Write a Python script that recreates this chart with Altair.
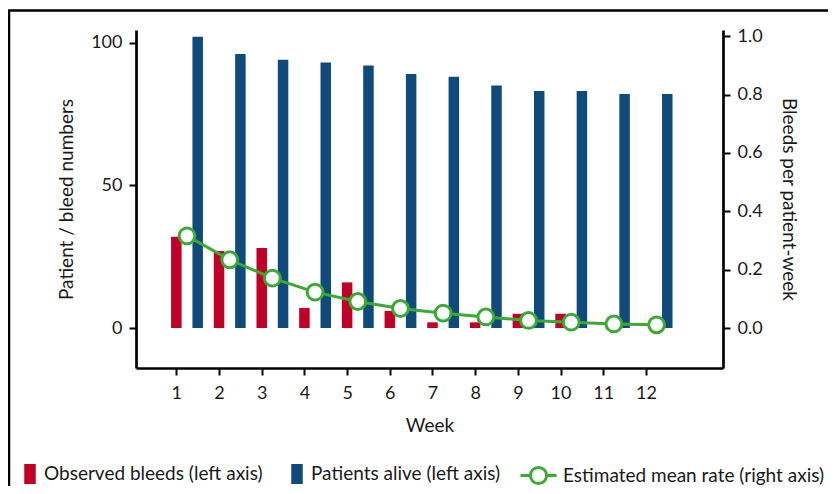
import altair as alt
import pandas as pd

# ---- data ----
weeks = [1, 2, 3, 4, 5, 6, 7, 8, 9, 10, 11, 12]
observed_bleeds = [32, 27, 28, 7, 16, 6, 2, 2, 5, 5, 0, 0]
patients_alive = [102, 96, 94, 93, 92, 89, 88, 85, 83, 83, 82, 82]
mean_rate = [0.316, 0.234, 0.171, 0.123, 0.091, 0.067, 0.051, 0.038, 0.026, 0.020, 0.014, 0.011]

bar_series = ["Observed bleeds (left axis)", "Patients alive (left axis)"]
line_series = "Estimated mean rate (right axis)"
x_ticks = weeks
left_ticks = [0, 50, 100]
right_ticks = [0.0, 0.2, 0.4, 0.6, 0.8, 1.0]

RED = "#C00027"
BLUE = "#0F4A7C"
GREEN = "#3BAA35"
FONT = "Lato"

bar_df = pd.DataFrame(
    {
        "week": weeks * 2,
        "value": observed_bleeds + patients_alive,
        "series": [bar_series[0]] * len(weeks) + [bar_series[1]] * len(weeks),
    }
)
line_df = pd.DataFrame({"week": weeks, "rate": mean_rate, "series": [line_series] * len(weeks)})

x_scale = alt.Scale(domain=[0.055, 13.805], nice=False, zero=False, padding=0)

bars = (
    alt.Chart(bar_df)
    .transform_calculate(pos=f"datum.week + (datum.series == '{bar_series[1]}' ? 0.5 : 0)")
    .mark_bar(size=10.5)
    .encode(
        x=alt.X(
            "pos:Q",
            scale=x_scale,
            axis=alt.Axis(values=x_ticks, format="d", title="Week", labelAngle=0,
                          labelPadding=9, titlePadding=14),
        ),
        y=alt.Y(
            "value:Q",
            scale=alt.Scale(domain=[-14, 104.4], nice=False),
            axis=alt.Axis(values=left_ticks, title="Patient / bleed numbers", orient="left",
                          labelPadding=7, titlePadding=14),
        ),
        y2=alt.datum(0),
        color=alt.Color(
            "series:N",
            scale=alt.Scale(domain=bar_series, range=[RED, BLUE]),
            legend=alt.Legend(
                title=None,
                orient="none",
                direction="horizontal",
                legendX=-116,
                legendY=434,
                symbolType="M-0.575,-1H0.575V1H-0.575Z",
                symbolSize=400,
                symbolStrokeWidth=0,
                labelOffset=4,
                columnPadding=24,
                labelFont=FONT,
                labelFontSize=19,
                labelColor="#1a1a1a",
                labelLimit=400,
            ),
        ),
    )
)

stroke_enc = alt.Stroke(
    "series:N",
    scale=alt.Scale(domain=[line_series], range=[GREEN]),
    legend=alt.Legend(
        title=None,
        orient="none",
        direction="horizontal",
        legendX=383,
        legendY=426,
        symbolType="M-1,0H-0.45M0.45,0H1M0.45,0A0.45,0.45,0,1,1,-0.45,0A0.45,0.45,0,1,1,0.45,0",
        symbolSize=1296,
        symbolStrokeWidth=3,
        symbolFillColor="white",
        symbolStrokeColor=GREEN,
        labelOffset=5,
        labelFont=FONT,
        labelFontSize=19,
        labelColor="#1a1a1a",
        labelLimit=400,
    ),
)

right_y = alt.Y(
    "rate:Q",
    scale=alt.Scale(domain=[-0.137, 1.0216], nice=False),
    axis=alt.Axis(values=right_ticks, format=".1f", title="Bleeds per patient-week",
                  orient="right", labelPadding=7, titlePadding=16, titleAngle=90),
)

line_base = alt.Chart(line_df).transform_calculate(pos="datum.week + 0.25")
line = line_base.mark_line(strokeWidth=3).encode(
    x=alt.X("pos:Q", scale=x_scale), y=right_y, stroke=stroke_enc
)
points = line_base.mark_point(shape="circle", size=250, fill="white", fillOpacity=1,
                              strokeWidth=3, opacity=1).encode(
    x=alt.X("pos:Q", scale=x_scale), y=right_y, stroke=stroke_enc
)

frame = (
    alt.Chart(pd.DataFrame({"f": [0]}))
    .mark_rect(fillOpacity=0, stroke="black", strokeWidth=2.5)
    .encode(x=alt.value(-127), x2=alt.value(2000), y=alt.value(-19.5), y2=alt.value(2000))
)

chart = (
    alt.layer(frame, bars, alt.layer(line, points))
    .resolve_scale(y="independent")
    .properties(
        width=587,
        height=338,
        autosize=alt.AutoSizeParams(type="none"),
        padding={"left": 128, "top": 22, "right": 105, "bottom": 118},
    )
    .configure_view(stroke=None)
    .configure_axis(
        grid=False,
        domainColor="black",
        domainWidth=2.7,
        tickColor="black",
        tickWidth=2,
        tickSize=7,
        labelFont=FONT,
        labelFontSize=18,
        labelColor="#1a1a1a",
        titleFont=FONT,
        titleFontSize=19,
        titleFontWeight="normal",
        titleColor="#1a1a1a",
    )
)

chart.save("out.html", embed_options={"renderer": "svg", "actions": False})
